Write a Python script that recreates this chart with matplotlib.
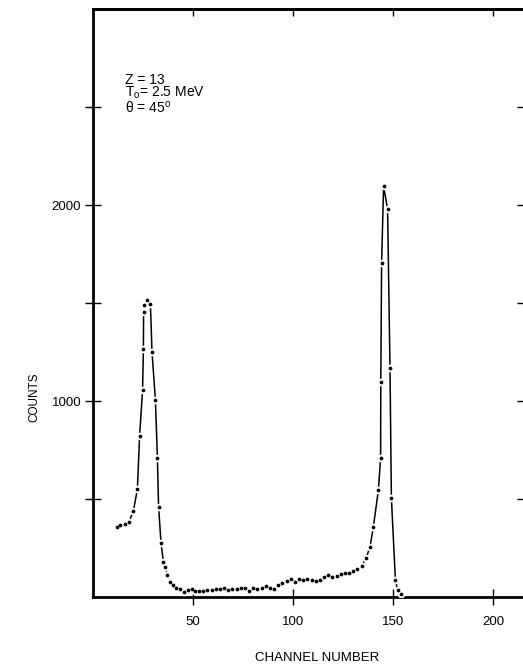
import numpy as np
import matplotlib
matplotlib.use('Agg')
import matplotlib.pyplot as plt

plt.rcParams['font.family'] = ['Liberation Sans', 'DejaVu Sans']
plt.rcParams['mathtext.fontset'] = 'custom'
plt.rcParams['mathtext.rm'] = 'Liberation Sans'

# channel / counts
channel = [11.8, 13.5, 16.0, 18.0, 20.2, 22.2, 23.3, 24.8, 25.2, 25.3, 25.7, 27.2,
           28.7, 29.5, 31.2, 32.2, 32.8, 34.0, 35.2, 36.0, 37.2, 38.5, 39.8, 41.5,
           43.5, 45.5, 47.7, 49.3, 51.0, 53.2, 55.2, 57.2, 59.3, 61.3, 63.5, 65.5,
           67.7, 69.7, 71.8, 73.8, 76.0, 78.0, 80.2, 82.2, 84.3, 86.5, 88.5, 90.5,
           92.7, 94.7, 96.8, 98.8, 101.0, 103.0, 105.2, 107.2, 109.3, 111.3, 113.5,
           115.5, 117.7, 119.7, 121.8, 123.8, 126.0, 128.0, 130.2, 132.2, 134.3,
           136.5, 138.5, 140.2, 142.7, 143.8, 143.9, 144.3, 145.3, 147.3, 148.5,
           149.2, 151.2, 152.3, 153.8]
counts = [359, 367, 371, 384, 439, 551, 823, 1056, 1265, 1452, 1490, 1515,
          1495, 1250, 1005, 709, 461, 276, 180, 155, 112, 78, 61, 48,
          39, 27, 36, 39, 31, 31, 32, 36, 36, 39, 39, 48,
          36, 39, 39, 44, 48, 31, 44, 39, 48, 56, 48, 39,
          61, 73, 83, 90, 78, 90, 87, 90, 87, 83, 87,
          104, 112, 100, 107, 117, 121, 124, 133, 141, 158,
          197, 255, 359, 546, 708, 1098, 1702, 2097, 1978, 1167,
          504, 87, 36, 15]

xticks = [50, 100, 150, 200]
yticks = [500, 1000, 1500, 2000, 2500]
ytick_labels = ['', '1000', '', '2000', '']

fig = plt.figure(figsize=(5.23, 6.69), dpi=100)
ax = fig.add_axes([93/523, 72/669, 432/523, 588/669])
ax.set_xlim(0, 216)
ax.set_ylim(0, 3000)

# line broken around each point: line, white halo, black dot
ax.plot(channel, counts, color='black', lw=1.1, zorder=2)
ax.plot(channel, counts, 'o', ms=5.5, mfc='white', mec='none', zorder=3)
ax.plot(channel, counts, 'o', ms=2.7, color='black', mec='none', zorder=4)

for s in ax.spines.values():
    s.set_linewidth(2.0)

ax.set_xticks(xticks)
ax.set_yticks(yticks)
ax.set_yticklabels(ytick_labels)
ax.tick_params(axis='x', direction='inout', length=11, width=1.0, pad=8, labelsize=9.5)
ax.tick_params(axis='y', direction='inout', length=11, width=1.0, pad=3, labelsize=9.5)

top = ax.secondary_xaxis('top')
top.set_xticks(xticks)
top.tick_params(direction='in', length=5, width=1.0, labeltop=False)
top.spines['top'].set_linewidth(2.0)
right = ax.secondary_yaxis('right')
right.set_yticks(yticks)
right.tick_params(direction='in', length=6, width=1.0, labelright=False)

ax.set_xlabel('CHANNEL NUMBER', fontsize=9.5, va='center')
ax.xaxis.set_label_coords((317 - 93) / 432, (597 - 658) / 588)
ax.set_ylabel('COUNTS', fontsize=8.5, va='center')
ax.yaxis.set_label_coords((34 - 93) / 432, (597 - 397) / 588)

ax.text(16, 2640, 'Z = 13', fontsize=10, va='center')
ax.text(16, 2570, r'T$_\mathrm{o}$= 2.5 MeV', fontsize=10, va='center')
ax.text(16, 2495, r'θ = 45$^\mathrm{o}$', fontsize=10, va='center')

fig.savefig('out.png', dpi=100)
